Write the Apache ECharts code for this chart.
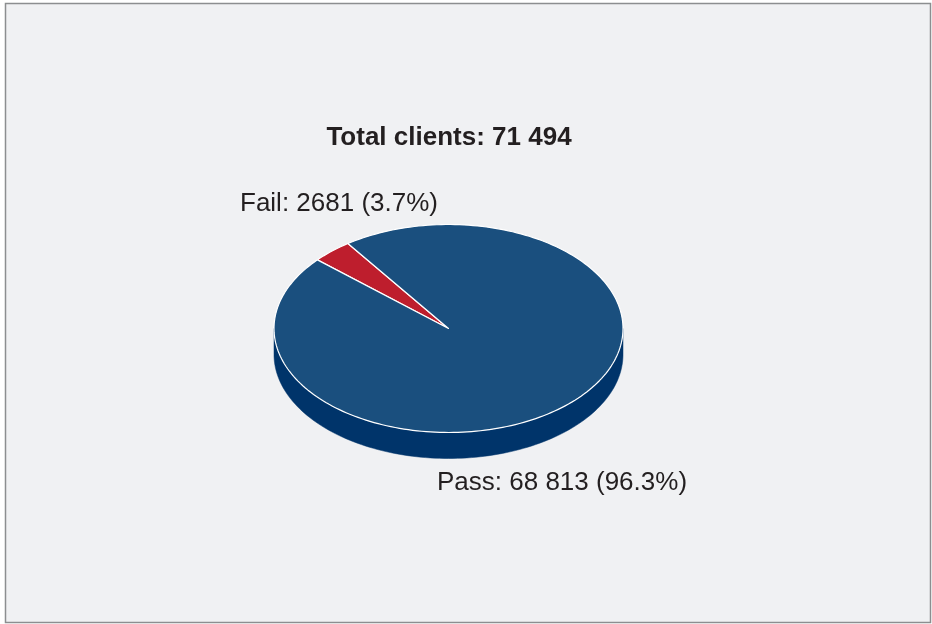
<html>
<head>
    <meta http-equiv="Content-Type" content="text/html; charset=utf-8" />
    <title>Total clients</title>
    <script src="https://cdn.jsdelivr.net/npm/echarts@6/dist/echarts.min.js"></script>
    <style>
        html, body { margin: 0; padding: 0; background: #fff; }
    </style>
</head>
<body>
    <div id="main" style="width:932px;height:624px"></div>

    <script type="text/javascript">
        var categories = ['Fail', 'Pass'];
        var clients = [2681, 68813];
        var shares = ['3.7', '96.3'];

        var total = clients.reduce(function (a, b) { return a + b; }, 0);

        // 68813 -> "68 813", 2681 stays as is
        function fmt(n) {
            var s = String(n);
            if (n < 10000) return s;
            return s.replace(/\B(?=(\d{3})+(?!\d))/g, ' ');
        }

        // pie geometry (pixels)
        var cx = 448.5, cy = 328.5, rx = 174.5, ry = 104, depth = 26;
        var startDeg = 125.2;
        var topColors = ['#be1e2d', '#1a4f7e'];
        var sideColors = ['#8a1420', '#00346a'];
        var labelPos = [
            { x: 240, y: 204 },
            { x: 437, y: 483 }
        ];

        // cumulative angles, counter-clockwise, in degrees
        var angles = [];
        var acc = startDeg;
        clients.forEach(function (v) {
            var span = v / total * 360;
            angles.push([acc, acc + span]);
            acc += span;
        });

        function pt(deg, dy) {
            var r = deg * Math.PI / 180;
            return [cx + rx * Math.cos(r), cy - ry * Math.sin(r) + (dy || 0)];
        }

        function arc(a, b, dy) {
            var pts = [];
            var n = Math.max(2, Math.ceil(Math.abs(b - a) / 1.5));
            for (var i = 0; i <= n; i++) {
                pts.push(pt(a + (b - a) * i / n, dy));
            }
            return pts;
        }

        function renderSlice(params, api) {
            var i = params.dataIndex;
            var a = angles[i][0], b = angles[i][1];
            var children = [];

            // visible front side: angles within [180, 360] (+k*360)
            for (var k = -1; k <= 2; k++) {
                var lo = Math.max(a, 180 + k * 360);
                var hi = Math.min(b, 360 + k * 360);
                if (hi > lo) {
                    var top = arc(lo, hi, 0);
                    var bottom = arc(hi, lo, depth);
                    children.push({
                        type: 'polygon',
                        shape: { points: top.concat(bottom) },
                        style: { fill: sideColors[i], stroke: sideColors[i], lineWidth: 0.5 }
                    });
                }
            }

            children.push({
                type: 'polygon',
                shape: { points: [[cx, cy]].concat(arc(a, b, 0)) },
                style: { fill: topColors[i], stroke: '#ffffff', lineWidth: 1.2, lineJoin: 'round' }
            });

            children.push({
                type: 'text',
                style: {
                    text: api.value(1) + ': ' + fmt(api.value(0)) + ' (' + shares[i] + '%)',
                    x: labelPos[i].x,
                    y: labelPos[i].y,
                    textAlign: 'left',
                    textVerticalAlign: 'middle',
                    font: '26px "Liberation Sans", Arial, sans-serif',
                    fill: '#231f20'
                }
            });

            return { type: 'group', children: children };
        }

        var seriesData = clients.map(function (v, i) {
            return [v, categories[i]];
        });

        var option = {
            backgroundColor: '#ffffff',
            animation: false,
            title: {
                text: 'Total clients: ' + fmt(total),
                left: 444,
                top: 133,
                textAlign: 'center',
                textVerticalAlign: 'middle',
                textStyle: {
                    fontFamily: '"Liberation Sans", Arial, sans-serif',
                    fontSize: 26,
                    fontWeight: 'bold',
                    color: '#231f20'
                }
            },
            graphic: [{
                type: 'rect',
                z: -10,
                shape: { x: 5.5, y: 3.5, width: 925, height: 619 },
                style: { fill: '#f0f1f3', stroke: '#8c8e90', lineWidth: 1.5 }
            }],
            series: [{
                type: 'custom',
                coordinateSystem: 'none',
                renderItem: renderSlice,
                data: seriesData
            }]
        };

        var myChart = echarts.init(document.getElementById('main'));
        myChart.setOption(option);
    </script>
</body>
</html>
